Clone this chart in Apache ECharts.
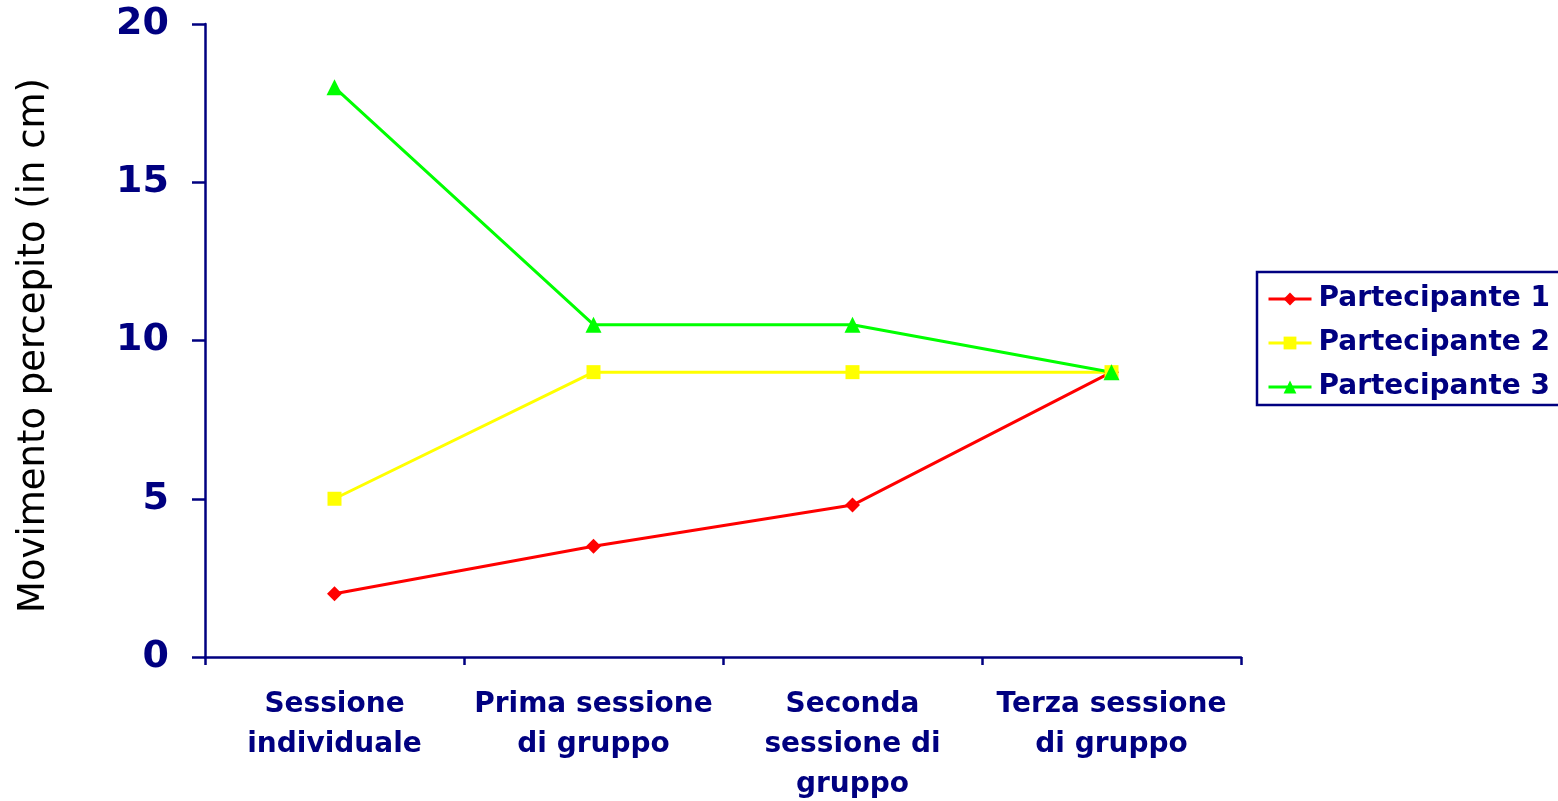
<!DOCTYPE html>
<html><head><meta charset="utf-8">
<script src="https://cdn.jsdelivr.net/npm/echarts@6/dist/echarts.min.js"></script>
<style>html,body{margin:0;padding:0;background:#fff}#c{width:1558px;height:801px}</style>
</head><body><div id="c"></div>
<script>
const categories = ["Sessione\nindividuale", "Prima sessione\ndi gruppo", "Seconda\nsessione di\ngruppo", "Terza sessione\ndi gruppo"];
const seriesNames = ["Partecipante 1", "Partecipante 2", "Partecipante 3"];
const p1 = [2, 3.5, 4.8, 9];
const p2 = [5, 9, 9, 9];
const p3 = [18, 10.5, 10.5, 9];
const yTicks = [0, 5, 10, 15, 20];

const navy = '#000080';
const font = 'DejaVu Sans';
const chart = echarts.init(document.getElementById('c'), null, {renderer: 'canvas'});
function mk(name, data, color, symbol, size) {
  return {
    name, type: 'line', data, symbol, symbolSize: size,
    lineStyle: {color, width: 3}, itemStyle: {color},
    emphasis: {disabled: true}, animation: false
  };
}
chart.setOption({
  animation: false,
  grid: {left: 205, right: 317, top: 24, bottom: 144, containLabel: false, outerBoundsMode: 'none'},
  legend: {
    orient: 'vertical', left: 1257, top: 272,
    data: seriesNames,
    borderColor: navy, borderWidth: 2.5,
    padding: [13, 10, 4, 10],
    itemWidth: 43, itemHeight: 16, itemGap: 16,
    lineStyle: {width: 3},
    textStyle: {fontFamily: font, fontWeight: 'bold', fontSize: 28, color: navy, padding: [0, 0, 0, 2]}
  },
  xAxis: {
    type: 'category', data: categories, boundaryGap: true,
    axisLine: {lineStyle: {color: navy, width: 2.5}},
    axisTick: {show: true, length: 8, lineStyle: {color: navy, width: 2.5}},
    axisLabel: {fontFamily: font, fontWeight: 'bold', fontSize: 28, color: navy, lineHeight: 40, margin: 28, interval: 0}
  },
  yAxis: {
    type: 'value', min: 0, max: 20, interval: 5,
    name: 'Movimento percepito (in cm)', nameLocation: 'middle', nameGap: 152,
    nameTextStyle: {fontFamily: font, fontSize: 37, color: '#000', padding: [0, 10, 0, 0]},
    axisLine: {show: true, lineStyle: {color: navy, width: 2.5}},
    axisTick: {show: true, length: 13, lineStyle: {color: navy, width: 2.5}},
    splitLine: {show: false},
    axisLabel: {fontFamily: font, fontWeight: 'bold', fontSize: 38, color: navy, margin: 36,
      padding: [6, 0, 0, 0],
      formatter: v => yTicks.includes(v) ? String(v) : ''}
  },
  series: [
    mk(seriesNames[0], p1, '#FF0000', 'diamond', 15),
    mk(seriesNames[1], p2, '#FFFF00', 'rect', 14),
    mk(seriesNames[2], p3, '#00FF00', 'triangle', 16)
  ]
});
</script></body></html>
